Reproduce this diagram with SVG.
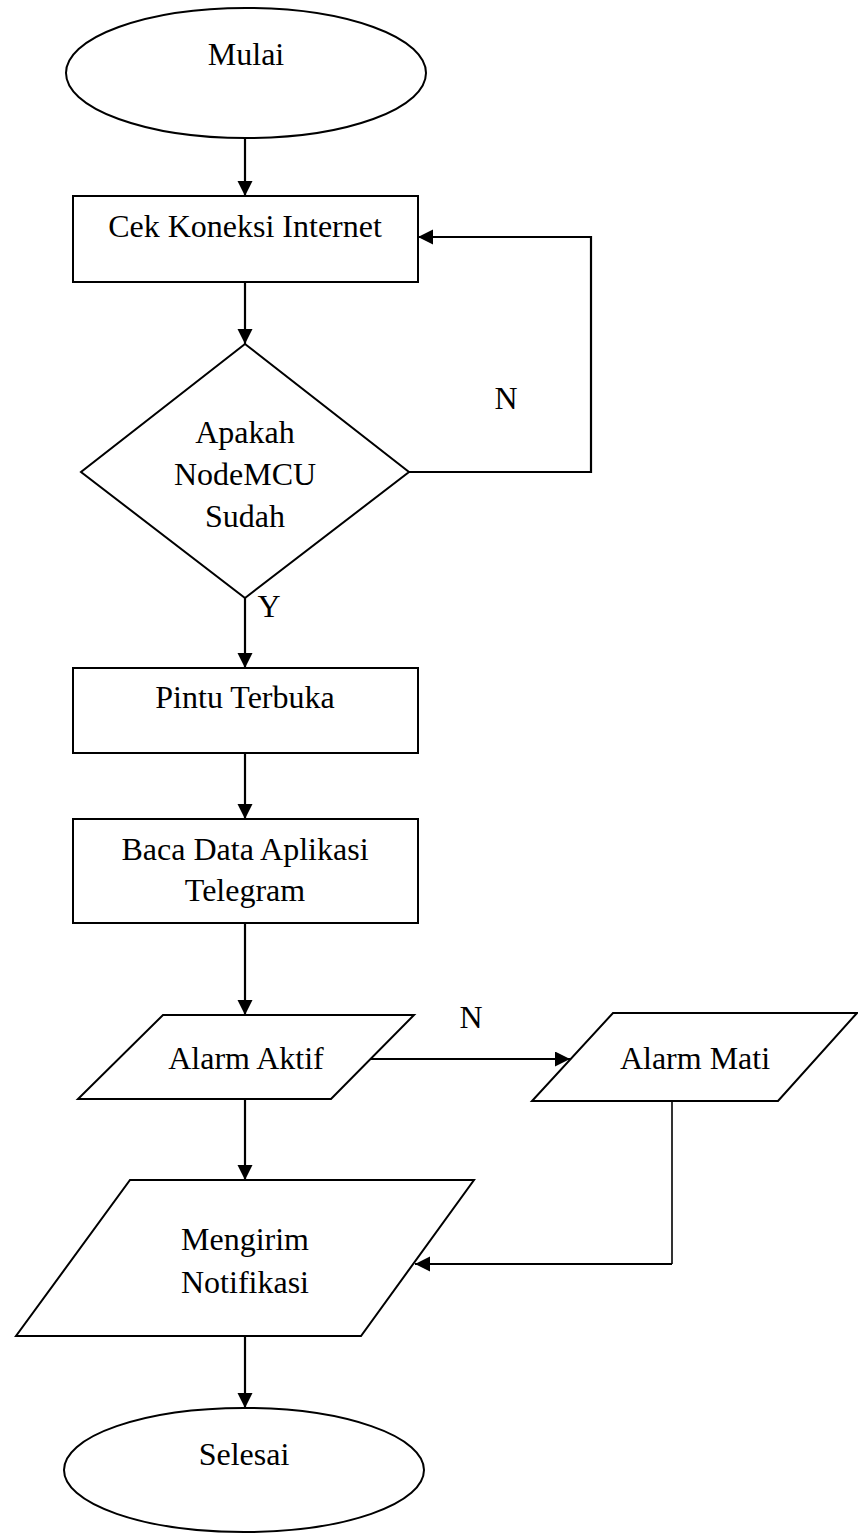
<svg xmlns="http://www.w3.org/2000/svg" width="858" height="1534" viewBox="0 0 858 1534">
<style>
.shape{fill:#fff;stroke:#000;stroke-width:2}
.conn{fill:none;stroke:#000;stroke-width:2.2}
.thin{fill:none;stroke:#000;stroke-width:1.6}
text{font-family:"Liberation Serif","Times New Roman",serif;font-size:32px;fill:#000;text-anchor:middle}
</style>
<defs>
<marker id="arr" markerUnits="userSpaceOnUse" markerWidth="16" markerHeight="16" refX="15" refY="7.5" orient="auto">
<path d="M0,0 L15,7.5 L0,15 z" fill="#000"/>
</marker>
</defs>
<rect width="858" height="1534" fill="#fff"/>
<g id="connectors">
<path class="conn" d="M245,138 V196" marker-end="url(#arr)"/>
<path class="conn" d="M245,282 V344" marker-end="url(#arr)"/>
<path class="conn" d="M409,472 H591 V237 H418" marker-end="url(#arr)"/>
<path class="conn" d="M245,598 V668" marker-end="url(#arr)"/>
<path class="conn" d="M245,753 V819" marker-end="url(#arr)"/>
<path class="conn" d="M245,923 V1015" marker-end="url(#arr)"/>
<path class="conn" d="M370,1059 H570" marker-end="url(#arr)"/>
<path class="conn" d="M245,1099 V1180" marker-end="url(#arr)"/>
<path class="thin" d="M672,1101 V1264"/>
<path class="conn" d="M672,1264 H415" marker-end="url(#arr)"/>
<path class="conn" d="M245,1336 V1408" marker-end="url(#arr)"/>
<text x="506" y="409">N</text>
<text x="269" y="617">Y</text>
<text x="471" y="1028">N</text>
</g>
<g id="mulai">
<ellipse class="shape" cx="246" cy="73" rx="180" ry="65"/>
<text x="246" y="65">Mulai</text>
</g>
<g id="cek">
<rect class="shape" x="73" y="196" width="345" height="86"/>
<text x="245" y="237">Cek Koneksi Internet</text>
</g>
<g id="decision">
<polygon class="shape" points="245,344 409,472 245,598 81,472"/>
<text x="245" y="443">Apakah</text>
<text x="245" y="485">NodeMCU</text>
<text x="245" y="527">Sudah</text>
</g>
<g id="pintu">
<rect class="shape" x="73" y="668" width="345" height="85"/>
<text x="245" y="708">Pintu Terbuka</text>
</g>
<g id="baca">
<rect class="shape" x="73" y="819" width="345" height="104"/>
<text x="245" y="860">Baca Data Aplikasi</text>
<text x="245" y="901">Telegram</text>
</g>
<g id="alarm-aktif">
<polygon class="shape" points="163,1015 414,1015 331,1099 78,1099"/>
<text x="246" y="1069">Alarm Aktif</text>
</g>
<g id="alarm-mati">
<polygon class="shape" points="613,1013 857,1013 778,1101 532,1101"/>
<text x="695" y="1069">Alarm Mati</text>
</g>
<g id="mengirim">
<polygon class="shape" points="130,1180 474,1180 361,1336 16,1336"/>
<text x="245" y="1250">Mengirim</text>
<text x="245" y="1293">Notifikasi</text>
</g>
<g id="selesai">
<ellipse class="shape" cx="244" cy="1470" rx="180" ry="62"/>
<text x="244" y="1465">Selesai</text>
</g>
</svg>
